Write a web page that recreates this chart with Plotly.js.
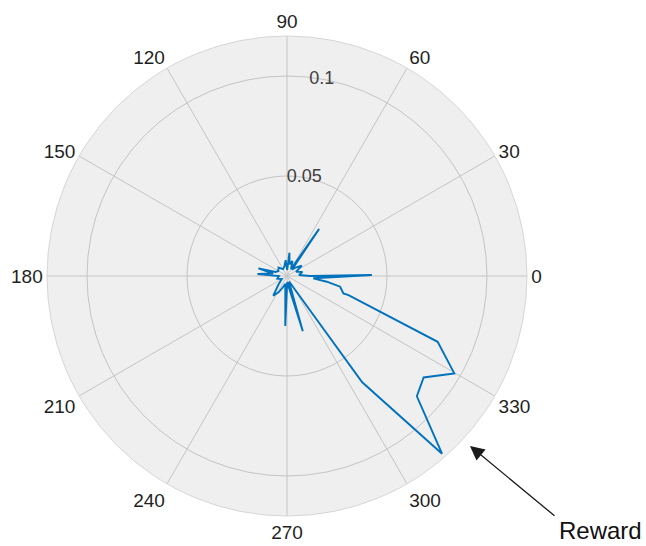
<!DOCTYPE html>
<html>
<head>
<meta charset="utf-8">
<script src="https://cdn.plot.ly/plotly-3.0.1.min.js"></script>
<style>html,body{margin:0;padding:0;background:#fff;}#chart{width:646px;height:546px;}</style>
</head>
<body>
<div id="chart"></div>
<script>
// Path vertices of the polar curve (theta in degrees, r value)
var thetaDeg = [295, 305.3, 311.1, 317.2, 323.4, 329.8, 336.4, 342.8, 342.9, 348.6, 351.8, 355, 0.7, 0,
  5, 15, 25, 35, 45, 52, 55.7, 60, 70, 78, 84, 88, 95, 105, 120, 135, 150, 160, 165, 170, 176, 180,
  195, 210, 225, 235, 243, 250, 258, 268, 272, 278, 286, 290, 295];
var rValue = [0.004, 0.0651, 0.1179, 0.0885, 0.0851, 0.0968, 0.0822, 0.0322, 0.0295, 0.0271, 0.0201, 0.0132, 0.0424, 0.0115,
  0.006, 0.008, 0.005, 0.009, 0.006, 0.004, 0.0285, 0.004, 0.008, 0.006, 0.0117, 0.003, 0.008, 0.005, 0.004, 0.006, 0.005, 0.006, 0.0148, 0.007, 0.0148, 0.004,
  0.005, 0.003, 0.006, 0.012, 0.009, 0.006, 0.004, 0.025, 0.003, 0.005, 0.0287, 0.003, 0.004];

var angTicks = [0, 30, 60, 90, 120, 150, 180, 210, 240, 270, 300, 330];
var angTickText = ['0', '30', '60', '90', '120', '150', '180', '210', '240', '270', '300', '330'];
var radTicks = [0.05, 0.1];
var radTickText = ['0.05', '0.1'];
var radLabelAngle = [80, 80];
var rMax = 0.12;

var traces = [
  {
    type: 'scatterpolar',
    mode: 'lines',
    r: rValue,
    theta: thetaDeg,
    line: {color: '#0072BD', width: 1.9},
    hoverinfo: 'skip'
  },
  {
    type: 'scatterpolar',
    mode: 'text',
    r: radTicks,
    theta: radLabelAngle,
    text: radTickText,
    textposition: 'middle center',
    textfont: {family: 'Liberation Sans, Arial, sans-serif', size: 18, color: '#404040'},
    hoverinfo: 'skip',
    cliponaxis: false
  }
];

var layout = {
  width: 646,
  height: 546,
  margin: {l: 47, r: 119, t: 36, b: 30},
  paper_bgcolor: '#ffffff',
  showlegend: false,
  font: {family: 'Liberation Sans, Arial, sans-serif', color: '#262626'},
  polar: {
    domain: {x: [0, 1], y: [0, 1]},
    bgcolor: '#efefef',
    radialaxis: {
      range: [0, rMax],
      tickmode: 'array',
      tickvals: radTicks,
      showticklabels: false,
      ticks: '',
      showline: false,
      gridcolor: '#c4c4c4',
      gridwidth: 1
    },
    angularaxis: {
      rotation: 0,
      direction: 'counterclockwise',
      tickmode: 'array',
      tickvals: angTicks,
      ticktext: angTickText,
      ticks: '',
      tickfont: {size: 19, color: '#1f1f1f'},
      showline: true,
      linecolor: '#d6d6d6',
      linewidth: 1,
      gridcolor: '#c4c4c4',
      gridwidth: 1
    }
  },
  annotations: [
    {
      xref: 'paper', yref: 'paper',
      x: (470 - 47) / 480, y: (516 - 446) / 480,
      ax: 86, ay: 71,
      text: '',
      showarrow: true,
      arrowhead: 2,
      arrowsize: 2.2,
      arrowwidth: 1.3,
      arrowcolor: '#1a1a1a'
    },
    {
      xref: 'paper', yref: 'paper',
      x: (600 - 47) / 480, y: (516 - 530) / 480,
      text: 'Reward',
      showarrow: false,
      xanchor: 'center', yanchor: 'middle',
      font: {size: 24, color: '#111111'}
    }
  ]
};

Plotly.newPlot('chart', traces, layout, {displayModeBar: false, staticPlot: true});
</script>
</body>
</html>
